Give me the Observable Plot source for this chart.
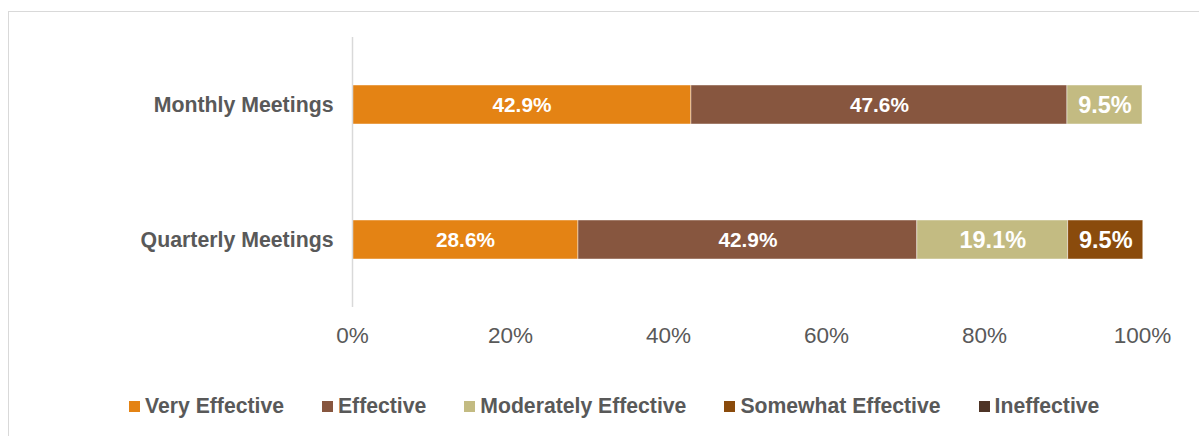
<!DOCTYPE html>
<html>
<head>
<meta charset="utf-8">
<script src="https://cdn.jsdelivr.net/npm/d3@7"></script>
<script src="https://cdn.jsdelivr.net/npm/@observablehq/plot@0.6"></script>
<style>
  html, body { margin: 0; padding: 0; background: #fff; width: 1199px; height: 436px; overflow: hidden; }
  body { position: relative; font-family: "Liberation Sans", Arial, sans-serif; }
  #frame { position: absolute; left: 8px; top: 11px; width: 1300px; height: 500px; border: 1.5px solid #d9d9d9; box-sizing: border-box; }
  #chart { position: absolute; left: 0; top: 0; }
  #legend { position: absolute; left: 129px; top: 394px; display: flex; align-items: center; gap: 38px; }
  .item { display: flex; align-items: center; gap: 5px; font-weight: bold; font-size: 21.2px; color: #595959; white-space: nowrap; }
  .sw { width: 11px; height: 11px; display: inline-block; }
</style>
</head>
<body>
<div id="frame"></div>
<div id="chart"></div>
<div id="legend"></div>
<script>
const meetings = ["Monthly Meetings", "Quarterly Meetings"];
const levels = ["Very Effective", "Effective", "Moderately Effective", "Somewhat Effective", "Ineffective"];
const monthlyValues = [42.9, 47.6, 9.5, 0, 0];
const quarterlyValues = [28.6, 42.9, 19.1, 9.5, 0];
const colors = ["#E48314", "#87563F", "#C3BB82", "#8A4B0C", "#4E3426"];
const xTicks = [0, 20, 40, 60, 80, 100];

const rows = [];
[monthlyValues, quarterlyValues].forEach((vals, i) => {
  vals.forEach((v, j) => rows.push({meeting: meetings[i], level: levels[j], value: v}));
});
const shown = rows.filter(d => d.value > 0);
const bigLabel = new Set(["Moderately Effective", "Somewhat Effective", "Ineffective"]);

const chart = Plot.plot({
  width: 1199,
  height: 360,
  marginLeft: 352,
  marginRight: 57,
  marginTop: 37,
  marginBottom: 53,
  style: {fontFamily: "'Liberation Sans', Arial, sans-serif", background: "transparent"},
  x: {domain: [0, 100]},
  y: {domain: meetings, paddingInner: 0.711, paddingOuter: 0.3555},
  color: {domain: levels, range: colors},
  marks: [
    Plot.barX(shown, Plot.stackX({x: "value", y: "meeting", fill: "level", order: levels, stroke: "#fff", strokeWidth: 0.75, strokeOpacity: 0.6})),
    Plot.textX(shown, Plot.stackX({x: "value", y: "meeting", z: "level", order: levels,
      text: d => d.value.toFixed(1) + "%", fill: "white", fontWeight: "bold",
      fontSize: d => bigLabel.has(d.level) ? 23.5 : 20.8})),
    Plot.ruleX([0], {stroke: "#d9d9d9", strokeWidth: 1.5}),
    Plot.axisX(xTicks, {tickSize: 0, tickPadding: 20, tickFormat: d => d + "%", fontSize: 22.5, fill: "#595959", label: null}),
    Plot.axisY({tickSize: 0, tickPadding: 19, fontSize: 21.3, fontWeight: "bold", fill: "#595959", label: null})
  ]
});
document.getElementById("chart").appendChild(chart);

const legend = document.getElementById("legend");
levels.forEach((name, i) => {
  const item = document.createElement("div");
  item.className = "item";
  const sw = document.createElement("span");
  sw.className = "sw";
  sw.style.background = colors[i];
  const t = document.createElement("span");
  t.textContent = name;
  item.appendChild(sw);
  item.appendChild(t);
  legend.appendChild(item);
});
</script>
</body>
</html>
